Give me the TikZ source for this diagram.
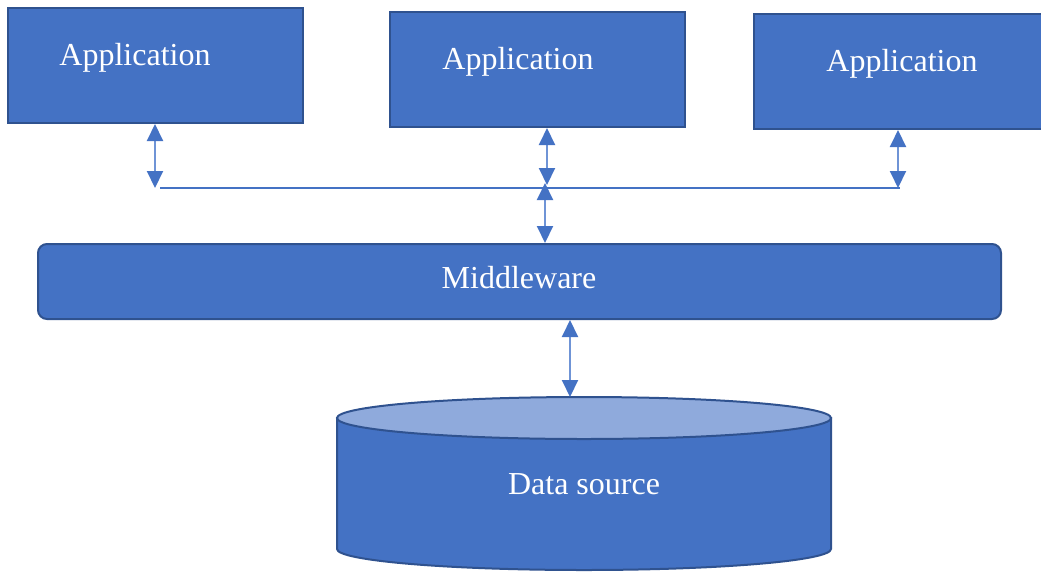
\documentclass[tikz,border=0pt]{standalone}
\usepackage{fontspec}
\setmainfont{Liberation Serif}
\usetikzlibrary{arrows.meta}
\definecolor{boxfill}{HTML}{4472C4}
\definecolor{boxedge}{HTML}{2F528F}
\definecolor{lidfill}{HTML}{8FAADC}
\definecolor{linkcol}{HTML}{6F94D6}
\tikzset{
  appbox/.style={draw=boxedge, fill=boxfill, line width=2pt, inner sep=0pt},
  label/.style={text=white, inner sep=0pt, anchor=base, font=\fontsize{32}{38}\selectfont},
  biarrow/.style={draw=linkcol, line width=2pt,
    {Triangle[width=16pt,length=17pt,color=boxfill]}-{Triangle[width=16pt,length=17pt,color=boxfill]}},
  bus/.style={draw=boxfill, line width=1.5pt}
}
\begin{document}
\begin{tikzpicture}[x=1pt,y=1pt]
\useasboundingbox (0,0) rectangle (1041,-571);
% application boxes
\node[appbox, minimum width=295pt, minimum height=115pt] (app1) at (155.5,-65.5) {};
\node[appbox, minimum width=295pt, minimum height=115pt] (app2) at (537.5,-69.5) {};
\node[appbox, minimum width=295pt, minimum height=115pt] (app3) at (901.5,-71.5) {};
\node[label] (t1) at (135,-65) {Application};
\node[label] (t2) at (518,-69) {Application};
\node[label] (t3) at (902,-71) {Application};
% middleware
\node[appbox, rounded corners=9pt, minimum width=963pt, minimum height=75pt] (mw) at (519.5,-281.5) {};
\node[label] (tm) at (519,-288) {Middleware};
% shared bus
\coordinate (busL) at (160,-188);
\coordinate (busR) at (900,-188);
\coordinate (j1) at (155,-188);
\coordinate (j2) at (547,-185);
\coordinate (j3) at (545,-183);
\coordinate (j4) at (898,-188);
\draw[bus] (busL) -- (busR);
\draw[biarrow] (app1.south -| j1) -- (j1);
\draw[biarrow] (app2.south -| j2) -- (j2);
\draw[biarrow] (mw.north -| j3) -- (j3);
\draw[biarrow] (app3.south -| j4) -- (j4);
% data source cylinder
\fill[boxfill, draw=boxedge, line width=2pt]
  (337,-418) -- (337,-549) arc[start angle=180, end angle=360, x radius=247, y radius=21]
  -- (831,-418) -- cycle;
\draw[fill=lidfill, draw=boxedge, line width=2pt] (584,-418) ellipse[x radius=247, y radius=21];
\coordinate (dbtop) at (570,-397);
\node[label] (td) at (584,-494) {Data source};
\draw[biarrow] (mw.south -| dbtop) -- (dbtop);
\end{tikzpicture}
\end{document}
